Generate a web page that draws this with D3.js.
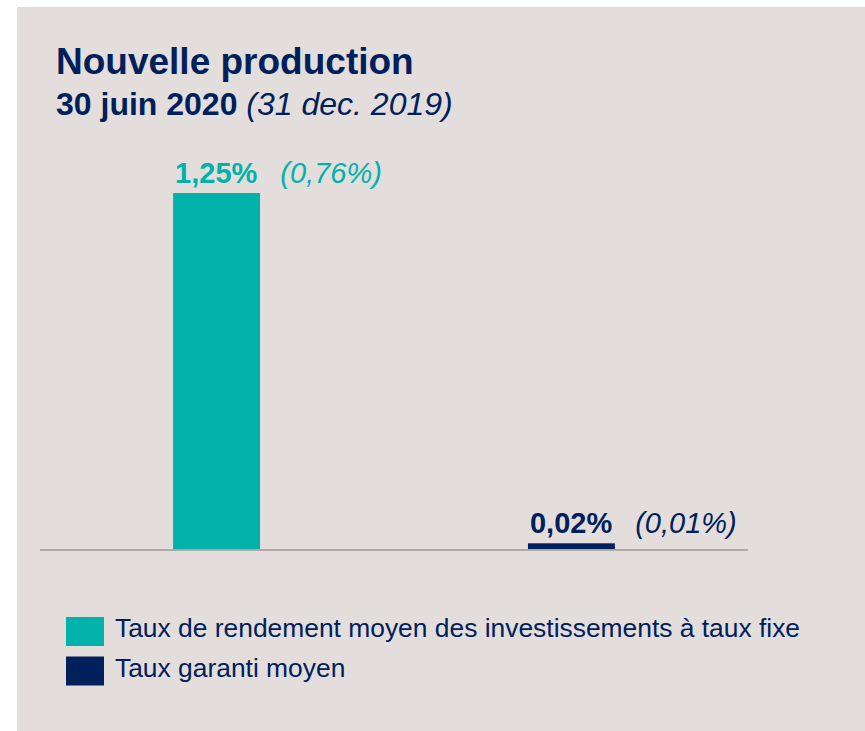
<!DOCTYPE html>
<html>
<head>
<meta charset="utf-8">
<script src="https://cdn.jsdelivr.net/npm/d3@7"></script>
<style>
  html, body { margin: 0; padding: 0; background: #ffffff; }
  svg { display: block; }
  text { font-family: "Liberation Sans", Arial, sans-serif; }
</style>
</head>
<body>
<svg id="chart" width="865" height="731"></svg>
<script>
// Series: current value (30 juin 2020) and previous value (31 dec. 2019)
const categories = ["Taux de rendement moyen des investissements à taux fixe", "Taux garanti moyen"];
const currentValues = [1.25, 0.02];
const previousValues = [0.76, 0.01];
const currentLabels = ["1,25%", "0,02%"];
const previousLabels = ["(0,76%)", "(0,01%)"];
const colors = ["#00b2a9", "#00205b"];

const svg = d3.select("#chart");

// Panel background
svg.append("rect")
  .attr("x", 17).attr("y", 7)
  .attr("width", 848).attr("height", 724)
  .attr("fill", "#e3dedc");

// Titles
svg.append("text")
  .attr("x", 56).attr("y", 74)
  .attr("fill", "#00205b")
  .attr("font-size", 37).attr("font-weight", "bold")
  .text("Nouvelle production");

const sub = svg.append("text")
  .attr("x", 56).attr("y", 115)
  .attr("fill", "#00205b")
  .attr("font-size", 32);
sub.append("tspan").attr("font-weight", "bold").text("30 juin 2020 ");
sub.append("tspan").attr("font-style", "italic").text("(31 dec. 2019)");

// Scales
const baseline = 549;
const y = d3.scaleLinear().domain([0, 1.25]).range([baseline, 193]);
const x = d3.scaleBand().domain(categories).range([40, 748]).paddingInner(0.755).paddingOuter(0.375);

// Bars
svg.selectAll("rect.bar")
  .data(categories)
  .join("rect")
  .attr("class", "bar")
  .attr("x", d => x(d))
  .attr("width", x.bandwidth())
  .attr("y", (d, i) => y(currentValues[i]))
  .attr("height", (d, i) => baseline - y(currentValues[i]))
  .attr("fill", (d, i) => colors[i]);

// Axis baseline
svg.append("line")
  .attr("x1", 40).attr("x2", 748)
  .attr("y1", baseline + 1).attr("y2", baseline + 1)
  .attr("stroke", "#b1a9a5").attr("stroke-width", 2);

// Value labels
categories.forEach((c, i) => {
  const t = svg.append("text")
    .attr("x", x(c) + 2)
    .attr("y", y(currentValues[i]) - 10)
    .attr("fill", colors[i])
    .attr("font-size", 29);
  t.append("tspan").attr("font-weight", "bold").text(currentLabels[i]);
  t.append("tspan").attr("font-style", "italic").attr("dx", 23).text(previousLabels[i]);
});

// Legend
const legend = svg.append("g");
categories.forEach((c, i) => {
  legend.append("rect")
    .attr("x", 66).attr("y", 617 + i * 39.5)
    .attr("width", 38).attr("height", 29)
    .attr("fill", colors[i]);
  legend.append("text")
    .attr("x", 115).attr("y", 637 + i * 40)
    .attr("fill", "#00205b")
    .attr("font-size", 26.4)
    .text(c);
});
</script>
</body>
</html>
